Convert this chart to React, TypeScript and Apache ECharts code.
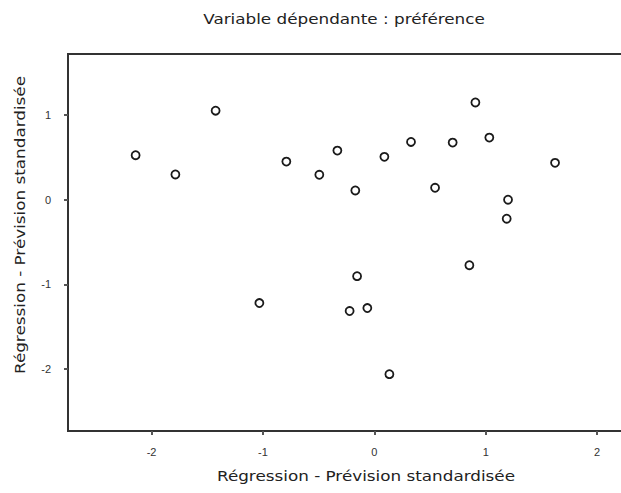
import React, { useEffect, useRef } from "react";
import * as echarts from "echarts";

const titleText = "Variable dépendante : préférence";
const xAxisName = "Régression - Prévision standardisée";
const yAxisName = "Régression - Prévision standardisée";
const tickValues = [-2, -1, 0, 1, 2];

const predicted = [
  -2.143, -1.786, -1.425, -1.032, -0.79, -0.494, -0.332, -0.171, -0.155, -0.222, -0.063,
  0.09, 0.135, 0.329, 0.545, 0.703, 0.853, 0.907, 1.032, 1.2, 1.188, 1.622,
];
const residual = [
  0.525, 0.298, 1.051, -1.22, 0.45, 0.294, 0.58, 0.109, -0.902, -1.314, -1.279,
  0.506, -2.059, 0.682, 0.141, 0.674, -0.773, 1.148, 0.733, 0.0, -0.224, 0.435,
];

export default function App() {
  const ref = useRef<HTMLDivElement>(null);
  useEffect(() => {
    document.body.style.margin = "0";
    const chart = echarts.init(ref.current!, null, { renderer: "svg" });
    const font = "'Liberation Sans', Arial, sans-serif";
    const nameFont = "'DejaVu Sans', sans-serif";
    const axisCommon = {
      type: "value" as const,
      splitLine: { show: false },
      axisLine: { show: true, onZero: false, lineStyle: { color: "#333", width: 2 } },
      axisTick: {
        show: true,
        customValues: tickValues,
        length: 4,
        lineStyle: { color: "#555", width: 2 },
      },
      axisLabel: {
        customValues: tickValues,
        color: "#333",
        fontSize: 11,
        fontFamily: font,
      },
    };
    chart.setOption({
      animation: false,
      backgroundColor: "#fff",
      grid: {
        left: 68,
        top: 54,
        bottom: 62,
        right: -43,
        outerBoundsMode: "none",
        containLabel: false,
        show: true,
        borderColor: "#333",
        borderWidth: 2,
      },
      xAxis: {
        ...axisCommon,
        min: -2.75,
        max: 2.6,
        axisLabel: { ...axisCommon.axisLabel, margin: 15 },
      },
      yAxis: {
        ...axisCommon,
        min: -2.73,
        max: 1.72,
        axisLabel: { ...axisCommon.axisLabel, margin: 17 },
      },
      graphic: [
        {
          type: "text",
          x: 344,
          y: 19,
          scaleX: 1.2,
          style: {
            text: titleText,
            fontSize: 14,
            fontFamily: nameFont,
            fill: "#222",
            align: "center",
            verticalAlign: "middle",
          },
        },
        {
          type: "text",
          x: 366,
          y: 476,
          scaleX: 1.2,
          style: {
            text: xAxisName,
            fontSize: 14,
            fontFamily: nameFont,
            fill: "#222",
            align: "center",
            verticalAlign: "middle",
          },
        },
        {
          type: "text",
          x: 20,
          y: 225,
          rotation: Math.PI / 2,
          scaleX: 1.2,
          style: {
            text: yAxisName,
            fontSize: 14,
            fontFamily: nameFont,
            fill: "#222",
            align: "center",
            verticalAlign: "middle",
          },
        },
      ],
      series: [
        {
          type: "scatter",
          data: predicted.map((x, i) => [x, residual[i]]),
          symbol: "circle",
          symbolSize: 8,
          itemStyle: { color: "#fff", borderColor: "#1a1a1a", borderWidth: 1.8, opacity: 1 },
        },
      ],
    });
    return () => chart.dispose();
  }, []);
  return <div ref={ref} style={{ width: 621, height: 493 }} />;
}
